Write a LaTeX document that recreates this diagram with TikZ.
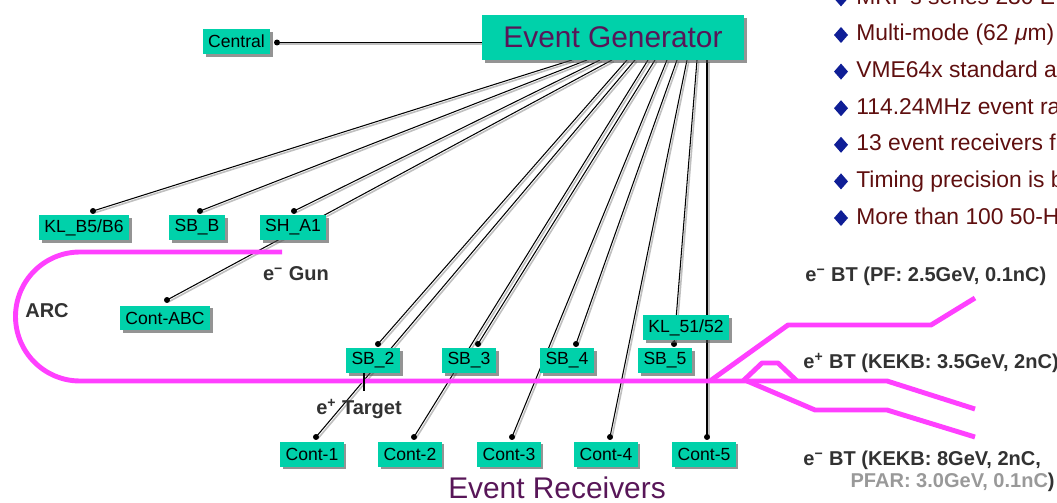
\documentclass[tikz,border=0pt]{standalone}
\usepackage{fontspec}
\setmainfont{Liberation Sans}
\usetikzlibrary{calc,shadows}
\pgfdeclarelayer{background}
\pgfsetlayers{background,main}
\definecolor{evgreen}{RGB}{0,209,170}
\definecolor{beamcol}{RGB}{255,64,255}
\definecolor{evpurple}{RGB}{88,22,88}
\definecolor{listred}{RGB}{95,15,15}
\definecolor{listblue}{RGB}{15,30,150}
\definecolor{lblgray}{RGB}{50,50,50}
\tikzset{
	evbox/.style={fill=evgreen, drop shadow={shadow xshift=1.6pt, shadow yshift=-1.6pt, fill=black!70, opacity=.6},
		inner xsep=3pt, inner ysep=0pt, minimum height=0.5cm, font=\fontsize{10}{12}\selectfont},
	wire/.style={line width=0.6pt, preaction={draw=black!25, line width=0.9pt, transform canvas={shift={(1pt,-1pt)}}}},
	beam/.style={beamcol, line width=2.8pt, line join=round},
	lbl/.style={lblgray, inner sep=0pt, font=\fontsize{11.4}{13}\selectfont\bfseries},
}
\begin{document}
\begin{tikzpicture}[x=0.02cm, y=-0.02cm, line join=round, line cap=round]
	\useasboundingbox (0,0) rectangle (1057,503);
	%Generator
	\node[evbox, minimum width=5.24cm, minimum height=0.9cm, text=evpurple, font=\fontsize{17}{20}\selectfont] (gen) at (613,37.5) {Event Generator};
	\node[evbox] (central) at (236.5,41.5) {Central};
	%Receivers
	\node[evbox] (klb) at (84,227.5) {KL\_B5/B6};
	\node[evbox] (sbb) at (197,227.5) {SB\_B};
	\node[evbox] (sha) at (293,227.5) {SH\_A1};
	\node[evbox] (cabc) at (165,318) {Cont-ABC};
	\node[evbox] (sb2) at (373,360.5) {SB\_2};
	\node[evbox] (sb3) at (469,360.5) {SB\_3};
	\node[evbox] (sb4) at (567,360.5) {SB\_4};
	\node[evbox] (sb5) at (665,360.5) {SB\_5};
	\node[evbox] (kl5) at (686,327.5) {KL\_51/52};
	\node[evbox] (c1) at (312,454) {Cont-1};
	\node[evbox] (c2) at (410,454) {Cont-2};
	\node[evbox] (c3) at (509,454) {Cont-3};
	\node[evbox] (c4) at (606,454) {Cont-4};
	\node[evbox] (c5) at (704,454) {Cont-5};
	\node[anchor=base, inner sep=0pt, text=evpurple, font=\fontsize{17}{20}\selectfont] (recv) at (557,498) {Event Receivers};
	%Dots
	\coordinate (dcen) at (277,42.5);
	\coordinate (dklb) at (93,211);
	\coordinate (dsbb) at (200,211);
	\coordinate (dsha) at (294,211);
	\coordinate (dcabc) at (167,300);
	\coordinate (dsb2) at (378,344);
	\coordinate (dsb3) at (478,344);
	\coordinate (dsb4) at (576,344);
	\coordinate (dsb5) at (674,344);
	\coordinate (dc1) at (316,437);
	\coordinate (dc2) at (414,437);
	\coordinate (dc3) at (512,437);
	\coordinate (dc4) at (610,437);
	\coordinate (dc5) at (707,437);
	%Fibres
	\begin{pgfonlayer}{background}
		\draw[wire] ($(gen.west)+(0,5)$) -- (dcen);
		\fill (dcen) circle (1.7pt);
		\foreach \n/\x in {klb/572,sbb/587,sha/600,cabc/612,sb2/627,c1/635,c2/648,sb3/655,c3/667,sb4/677,c4/687,sb5/697,c5/707}{
			\coordinate (s\n) at (\x,60);
			\draw[wire] (s\n) -- (d\n);
			\fill (d\n) circle (1.7pt);
		}
		%Beam line
		\draw[beam] (282,252) -- (80,252) arc[start angle=270, end angle=90, radius=64.5] -- (887,381) -- (975,409);
		\draw[beam] (710,381) -- (788,325) -- (931,325) -- (975,298);
		\draw[beam] (743,381) -- (762,363) -- (778,363) -- (797,381);
		\draw[beam] (747,381) -- (815,410) -- (887,410) -- (975,437);
	\end{pgfonlayer}
	\draw[line width=1.5pt, line cap=butt] (364,373) -- (364,391);
	%Labels
	\node[lbl, anchor=base] (gun) at (296,280) {e\textsuperscript{−} Gun};
	\node[lbl, anchor=base] (arc) at (47,317) {ARC};
	\node[lbl, anchor=base] (target) at (359,414) {e\textsuperscript{+} Target};
	\node[lbl, anchor=base west] (btpf) at (805,281) {e\textsuperscript{−} BT (PF: 2.5GeV, 0.1nC)};
	\node[lbl, anchor=base west] (btpos) at (803,368) {e\textsuperscript{+} BT (KEKB: 3.5GeV, 2nC)};
	\node[lbl, anchor=base west] (btkekb) at (803,465) {e\textsuperscript{−} BT (KEKB: 8GeV, 2nC,};
	\node[lbl, anchor=base east] (btpfar) at (1055,487) {\textcolor{black!40}{PFAR: 3.0GeV, 0.1nC}\textcolor{lblgray}{)}};
	%List
	\foreach \t [count=\i from 0] in {MRF's series 230 E,Multi-mode (62 {\itshape μ}m),VME64x standard a,114.24MHz event ra,13 event receivers f,Timing precision is b,More than 100 50-H}{
		\node[anchor=base west, inner sep=0pt, text=listred, font=\fontsize{13}{15}\selectfont] (item\i) at (856,{4.4+36.6*\i}) {\t};
		\fill[listblue] ($(item\i.base west)+(-22,-6)$) -- ++(7,-8) -- ++(7,8) -- ++(-7,8) -- cycle;
	}
\end{tikzpicture}
\end{document}
